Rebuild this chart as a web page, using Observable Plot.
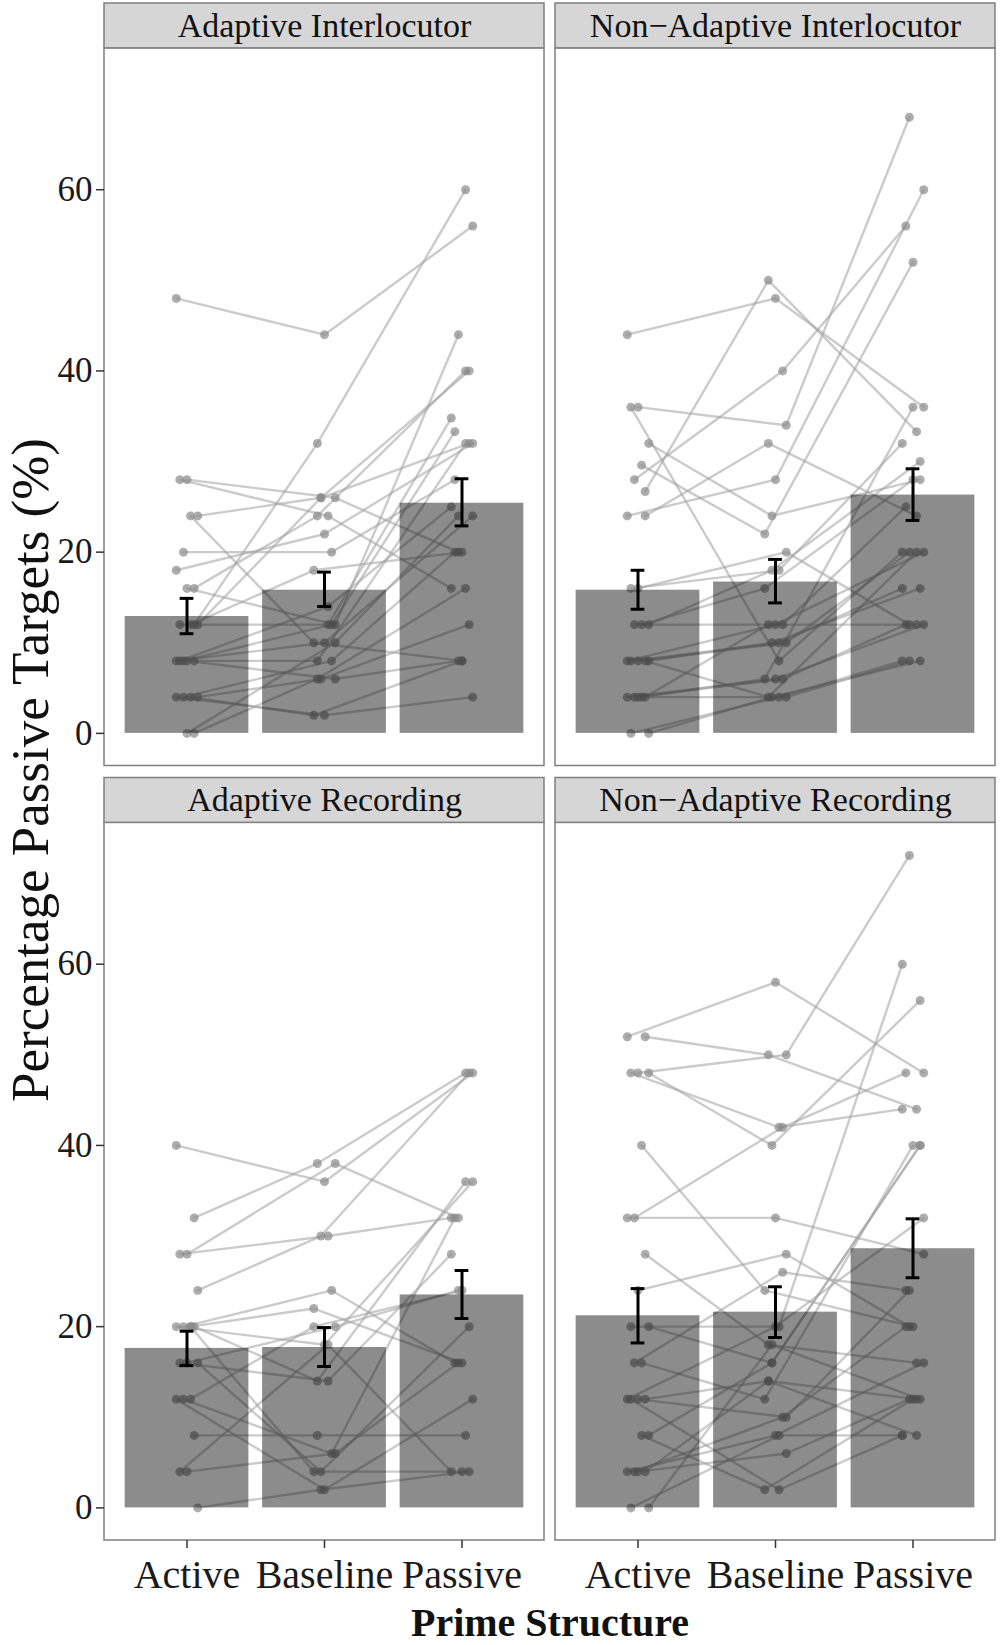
<!DOCTYPE html>
<html>
<head>
<meta charset="utf-8">
<script src="https://cdn.jsdelivr.net/npm/d3@7"></script>
<script src="https://cdn.jsdelivr.net/npm/@observablehq/plot@0.6"></script>
<style>
  html, body { margin: 0; padding: 0; background: #fff; }
</style>
</head>
<body>
<div id="chart"></div>
<script>
// ---------- categories ----------
const conditions = ["Active", "Baseline", "Passive"];
const columns = ["Adaptive", "Non−Adaptive"];
const rows = ["Interlocutor", "Recording"];
const panelNames = ["Adaptive Interlocutor", "Non−Adaptive Interlocutor", "Adaptive Recording", "Non−Adaptive Recording"];
const panelCols = ["Adaptive", "Non−Adaptive", "Adaptive", "Non−Adaptive"];
const panelRows = ["Interlocutor", "Interlocutor", "Recording", "Recording"];

// ---------- per-participant percentages ----------
const aiActive   = [48,12,28,28,24,24,20,18,16,16,12,12,12,8,8,8,8,8,4,4,4,4,0,0];
const aiBaseline = [44,32,26,24,26,10,20,22,24,12,12,26,18,12,10,8,6,14,6,2,8,2,6,10];
const aiPassive  = [56,60,20,16,40,8,28,32,40,44,34.8,32,20,33.3,24,32,8,25,12,8,20,4,16,24];

const naiActive   = [44,26.7,36,36,32,29.6,28,24,24,16,16,12,12,12,8,8,8,8,8,4,4,4,4,4,0,0];
const naiBaseline = [48,50,34,8,24,22,40,28,32,20,18,18,16,12,12,4,10,10,10,6,6,6,12,4,4,4];
const naiPassive  = [36,33.3,68,20,28,52,56,60,24,12,32,30,28,25,20,20,20,16,16,36,12,12,12,8,8,8];

const arActive   = [40,32,28,28,24,20,20,20,20,16,16,16,12,12,12,8,4,4,0,20];
const arBaseline = [36,38,38,30,30,22,24,18,14,20,14,4,20,6,2,8,6,18,2,4];
const arPassive  = [48,48,32,32,48,16,16,36,36,24,28,20,24,32,12,8,16,4,4,4];

const narActive   = [52,52,48,48,48,40,32,32,28,24,20,20,16,16,12,12,12,12,8,8,4,4,4,4,0,0];
const narBaseline = [58,50,50,42,40,24,42,32,18,28,20,16,12,26,20,14,10,2,16,2,10,8,14,6,8,18];
const narPassive  = [48,44,72,44,56,20,48,28,16,20,60,40,40,24,32,12,24,8,40,12,20,16,8,12,8,12];

// ---------- condition means and error bars ----------
const aiMean  = [12.9, 15.8, 25.4], aiLow  = [11.0, 14.0, 22.9], aiHigh  = [14.9, 17.8, 28.1];
const naiMean = [15.8, 16.7, 26.3], naiLow = [13.7, 14.4, 23.5], naiHigh = [18.0, 19.2, 29.2];
const arMean  = [17.6, 17.7, 23.5], arLow  = [15.7, 15.6, 20.9], arHigh  = [19.5, 19.9, 26.2];
const narMean = [21.2, 21.6, 28.6], narLow = [18.2, 18.8, 25.4], narHigh = [24.2, 24.4, 31.9];

const yTicks = [0, 20, 40, 60];

// ---------- build tables ----------
const subjectSets = [
  [aiActive, aiBaseline, aiPassive],
  [naiActive, naiBaseline, naiPassive],
  [arActive, arBaseline, arPassive],
  [narActive, narBaseline, narPassive]
];
const summarySets = [
  [aiMean, aiLow, aiHigh],
  [naiMean, naiLow, naiHigh],
  [arMean, arLow, arHigh],
  [narMean, narLow, narHigh]
];

const points = [];
subjectSets.forEach((sets, p) => {
  const n = sets[0].length;
  for (let s = 0; s < n; s++) {
    sets.forEach((arr, c) => {
      const jit = (((s * 5 + c * 3) % 7) - 3) * 0.026;
      points.push({
        id: p + "-" + s, col: panelCols[p], row: panelRows[p],
        pos: c + 1 + jit, value: arr[s]
      });
    });
  }
});

const summary = [];
summarySets.forEach((sets, p) => {
  conditions.forEach((cond, c) => {
    summary.push({col: panelCols[p], row: panelRows[p], pos: c + 1,
      mean: sets[0][c], low: sets[1][c], high: sets[2][c]});
  });
});
const caps = summary.flatMap(d => [{...d, v: d.low}, {...d, v: d.high}]);

const panels = panelNames.map((name, i) => ({name, col: panelCols[i], row: panelRows[i]}));

const yMin = -3.6, yTop = 75.6, yStrip = 80.55;
const serif = "'Liberation Serif', 'Times New Roman', serif";

const chart = Plot.plot({
  width: 1000,
  height: 1645,
  marginLeft: 104,
  marginRight: 5,
  marginTop: 3,
  marginBottom: 105,
  style: {fontFamily: serif, background: "#fff", color: "#1a1a1a"},
  fx: {domain: columns, axis: null, paddingInner: 11 / 451, paddingOuter: 0, round: false},
  fy: {domain: rows, axis: null, paddingInner: 12 / 774.5, paddingOuter: 0, round: false},
  x: {domain: [0.4, 3.6]},
  y: {domain: [yMin, yStrip]},
  marks: [
    // individual participant lines
    Plot.line(points, {fx: "col", fy: "row", x: "pos", y: "value", z: "id",
      stroke: "#a0a0a0", strokeOpacity: 0.55, strokeWidth: 2.4}),
    Plot.dot(points, {fx: "col", fy: "row", x: "pos", y: "value",
      r: 4.5, fill: "#8a8a8a", fillOpacity: 0.7, stroke: "none"}),
    // condition means
    Plot.rect(summary, {fx: "col", fy: "row", x1: d => d.pos - 0.45, x2: d => d.pos + 0.45,
      y1: () => 0, y2: "mean", fill: "#000", fillOpacity: 0.45}),
    // error bars
    Plot.ruleX(summary, {fx: "col", fy: "row", x: "pos", y1: "low", y2: "high",
      stroke: "#000", strokeWidth: 3}),
    Plot.ruleY(caps, {fx: "col", fy: "row", y: "v", x1: d => d.pos - 0.05, x2: d => d.pos + 0.05,
      stroke: "#000", strokeWidth: 3}),
    // panel border
    Plot.rect(panels, {fx: "col", fy: "row", x1: () => 0.4, x2: () => 3.6,
      y1: () => yMin, y2: () => yTop, fill: "none", stroke: "#7f7f7f", strokeWidth: 1.5}),
    // strips
    Plot.rect(panels, {fx: "col", fy: "row", x1: () => 0.4, x2: () => 3.6,
      y1: () => yTop, y2: () => yStrip, fill: "#d6d6d6", stroke: "#7f7f7f", strokeWidth: 1.5}),
    Plot.text(panels, {fx: "col", fy: "row", x: () => 2, y: () => (yTop + yStrip) / 2,
      text: "name", fontSize: 34, fill: "#111"}),
    // axes
    Plot.axisY({ticks: yTicks, tickSize: 8, tickPadding: 4, fontSize: 35, label: null,
      stroke: "#333", strokeWidth: 1.5, fill: "#1a1a1a"}),
    Plot.axisX({ticks: [1, 2, 3], tickFormat: i => conditions[i - 1], tickSize: 8, tickPadding: 11,
      fontSize: 40, label: null, stroke: "#333", strokeWidth: 1.5, fill: "#1a1a1a"})
  ]
});

const svg = d3.select(chart);
svg.append("text")
  .attr("transform", "translate(47.5,770) rotate(-90)")
  .attr("text-anchor", "middle")
  .attr("font-family", serif)
  .attr("font-size", 53)
  .attr("fill", "#111")
  .text("Percentage Passive Targets (%)");
svg.append("text")
  .attr("x", 550)
  .attr("y", 1636)
  .attr("text-anchor", "middle")
  .attr("font-family", serif)
  .attr("font-size", 40)
  .attr("font-weight", "bold")
  .attr("fill", "#111")
  .text("Prime Structure");

document.getElementById("chart").appendChild(chart);
</script>
</body>
</html>
